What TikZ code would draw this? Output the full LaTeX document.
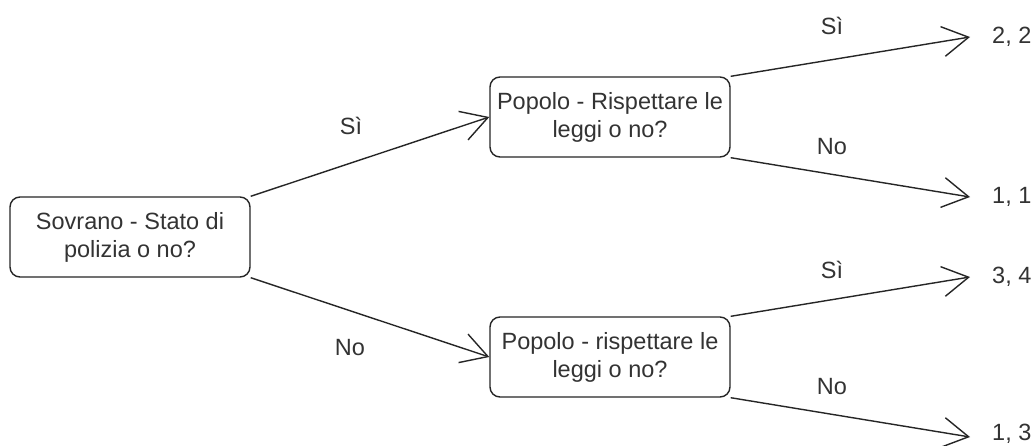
\documentclass[tikz,border=0pt]{standalone}
\usepackage{fontspec}
\setmainfont{Liberation Sans}
\usetikzlibrary{arrows.meta}
\begin{document}
\begin{tikzpicture}[x=1pt,y=-1pt,
  box/.style={draw=black!85, line width=1.4pt, rounded corners=10pt, minimum width=240pt, minimum height=80pt, inner sep=0pt, align=center, text=black!80, font=\fontsize{23.5}{28}\selectfont},
  lbl/.style={text=black!80, font=\fontsize{23.5}{27}\selectfont, inner sep=0pt},
  edge/.style={draw=black!85, line width=1.4pt, -{Straight Barb[length=26pt,width=30pt,line width=1.4pt]}}]
\useasboundingbox (0,0) rectangle (1034,445);
\fill[white] (0,0) rectangle (1034,445);
\node[box] (b1) at (130,237) {Sovrano - Stato di\\polizia o no?};
\node[box] (b2) at (610,117) {Popolo - Rispettare le\\leggi o no?};
\node[box] (b3) at (610,357) {Popolo - rispettare le\\leggi o no?};
\coordinate (e1) at (970,37);
\coordinate (e2) at (970,197);
\coordinate (e3) at (970,277);
\coordinate (e4) at (970,437);
\node[lbl, anchor=west] (t1) at (992,37) {2, 2};
\node[lbl, anchor=west] (t2) at (992,197) {1, 1};
\node[lbl, anchor=west] (t3) at (992,277) {3, 4};
\node[lbl, anchor=west] (t4) at (992,434) {1, 3};
\draw[edge] (b1.north east) -- (b2.west);
\draw[edge] (b1.south east) -- (b3.west);
\draw[edge] (b2.north east) -- (e1);
\draw[edge] (b2.south east) -- (e2);
\draw[edge] (b3.north east) -- (e3);
\draw[edge] (b3.south east) -- (e4);
\node[lbl] (l1) at (351,126) {Sì};
\node[lbl] (l2) at (350,348) {No};
\node[lbl] (l3) at (832,26) {Sì};
\node[lbl] (l4) at (832,147) {No};
\node[lbl] (l5) at (832,270) {Sì};
\node[lbl] (l6) at (832,387) {No};
\end{tikzpicture}
\end{document}
